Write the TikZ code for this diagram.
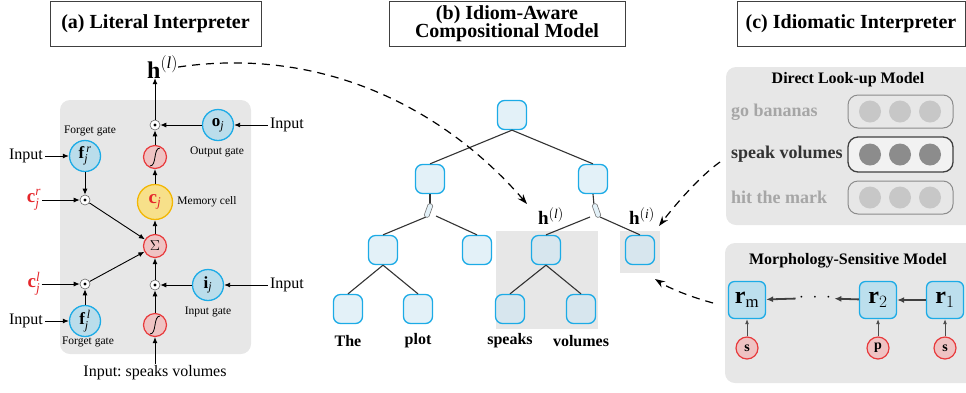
\documentclass[tikz,border=0pt]{standalone}
\usepackage{amsmath}
\usepackage{fontspec}
\setmainfont{Liberation Serif}
\usetikzlibrary{arrows.meta,positioning}

\definecolor{gateline}{HTML}{1CABE6}
\definecolor{gatefill}{HTML}{BADDEB}
\definecolor{memline}{HTML}{F2B705}
\definecolor{memfill}{HTML}{F7E08A}
\definecolor{opline}{HTML}{E8393B}
\definecolor{opfill}{HTML}{EFC3C3}
\definecolor{cred}{HTML}{E5262B}
\definecolor{panelgray}{HTML}{E7E7E7}
\definecolor{treefill}{HTML}{E3F1F8}
\definecolor{treeshade}{HTML}{D7E6EE}
\definecolor{rfill}{HTML}{BCDFED}

\newcommand\fsz[1]{\fontsize{#1}{#1}\selectfont}
\frenchspacing

\begin{document}
\begin{tikzpicture}[x=1pt, y=-1pt,
        title/.style={draw=black!75, line width=0.8pt, font=\fsz{20}\bfseries, inner sep=0pt, minimum height=45pt, align=center},
        panel/.style={fill=panelgray},
        gate/.style={circle, draw=gateline, fill=gatefill, line width=1.3pt, minimum size=31pt, inner sep=0pt, font=\fsz{17}},
        memcell/.style={circle, draw=memline, fill=memfill, line width=1.3pt, minimum size=35pt, inner sep=0pt, font=\fsz{19}},
        op/.style={circle, draw=opline, fill=opfill, line width=1.2pt, minimum size=23pt, inner sep=0pt, font=\fsz{14}},
        sig/.style={op, path picture={\draw[black, line width=0.8pt]
                ([shift={(-5pt,-9pt)}]path picture bounding box.center) .. controls +(7pt,0pt) and +(-7pt,0pt) ..
                ([shift={(5pt,9pt)}]path picture bounding box.center);}},
        prod/.style={circle, draw=black!60, fill=white, line width=0.6pt, minimum size=10pt, inner sep=0pt,
                path picture={\fill[black] (path picture bounding box.center) circle (1.7pt);}},
        lbl/.style={font=\fsz{16}, inner sep=2pt},
        note/.style={font=\fsz{11.5}, inner sep=1pt},
        arr/.style={-{Latex[length=6pt,width=5pt]}, line width=0.9pt},
        tnode/.style={draw=gateline, fill=treefill, line width=1.3pt, rounded corners=7pt, minimum size=29pt, inner sep=0pt},
        word/.style={font=\fsz{16}\bfseries, inner sep=1pt},
        branch/.style={draw=black!80, line width=1.1pt},
        switch/.style={draw=black!55, fill=treefill, line width=0.6pt, rounded corners=1.5pt, minimum width=14pt, minimum height=5pt, inner sep=0pt},
        link/.style={dash pattern=on 8pt off 6pt, line width=1.2pt, -{Stealth[length=10pt,width=7pt]}},
        capsule/.style={draw=black!45, line width=1pt, rounded corners=10pt, minimum width=105pt, minimum height=33pt, inner sep=0pt},
        ball/.style={circle, fill=black!22, minimum size=22pt, inner sep=0pt},
        rowtext/.style={font=\fsz{18}\bfseries, text=black!35, anchor=west, inner sep=0pt},
        rnode/.style={draw=gateline, fill=rfill, line width=1.3pt, rounded corners=6pt, minimum size=37pt, inner sep=0pt, font=\fsz{24}},
        morph/.style={circle, draw=opline, fill=opfill, line width=1.2pt, minimum size=22pt, inner sep=0pt, font=\fsz{14}\bfseries},
        chain/.style={-{Latex[length=7pt,width=6pt]}, line width=1.8pt, draw=black!75},
    ]
    \useasboundingbox (0,0) rectangle (966,392);

    % (a) literal interpreter
    \node[title, minimum width=211pt] (tA) at (155.5,23.5) {(a) Literal Interpreter};
    \fill[panel, rounded corners=10pt] (60,100) rectangle (251,354);

    \node[font=\fsz{24}, anchor=base west, inner sep=0pt] (hTop) at (147,78) {$\mathbf{h}^{(\textit{l})}$};
    \node[prod] (dotO) at (155,125) {};
    \node[gate] (oj) at (218,125) {$\mathbf{o}_{\textit{j}}$};
    \node[lbl] (inO) at (287,125) {Input};
    \node[note] at (217,152) {Output gate};
    \node[sig] (sigT) at (155,157) {};
    \node[memcell] (cj) at (155,202) {\color{cred}$\mathbf{c}_{\textit{j}}$};
    \node[note] at (207,202) {Memory cell};
    \node[op] (sum) at (155,246) {$\Sigma$};
    \node[prod] (dotI) at (155,285) {};
    \node[gate] (ij) at (208,285) {$\mathbf{i}_{\textit{j}}$};
    \node[lbl] (inI) at (287,285) {Input};
    \node[note] at (208,312) {Input gate};
    \node[sig] (sigB) at (155,325) {};
    \node[lbl] (inB) at (155,373) {Input: speaks volumes};

    \node[gate] (fr) at (85,156) {$\mathbf{f}^{\,\textit{r}}_{\textit{j}}$};
    \node[note] at (90,131) {Forget gate};
    \node[lbl] (inFr) at (26,156) {Input};
    \node[prod] (dotR) at (85,200) {};
    \node[font=\fsz{19}, text=cred, inner sep=1pt] (cr) at (34,200) {$\mathbf{c}^{\textit{r}}_{\textit{j}}$};
    \node[prod] (dotL) at (85,284) {};
    \node[font=\fsz{19}, text=cred, inner sep=1pt] (cl) at (34,284) {$\mathbf{c}^{\textit{l}}_{\textit{j}}$};
    \node[gate] (fl) at (85,321) {$\mathbf{f}^{\,\textit{l}}_{\textit{j}}$};
    \node[note] at (88,342) {Forget gate};
    \node[lbl] (inFl) at (26,321) {Input};

    \draw[arr] (dotO) -- (dotO |- hTop.south);
    \draw[arr] (oj) -- (dotO);
    \draw[arr] (inO) -- (oj);
    \draw[arr] (sigT) -- (dotO);
    \draw[arr] (cj) -- (sigT);
    \draw[arr] (sum) -- (cj);
    \draw[arr] (dotI) -- (sum);
    \draw[arr] (ij) -- (dotI);
    \draw[arr] (inI) -- (ij);
    \draw[arr] (sigB) -- (dotI);
    \draw[arr] (inB) -- (sigB);
    \draw[arr] (inFr) -- (fr);
    \draw[arr] (fr) -- (dotR);
    \draw[arr] (cr) -- (dotR);
    \draw[arr] (dotR) -- (sum);
    \draw[arr] (inFl) -- (fl);
    \draw[arr] (fl) -- (dotL);
    \draw[arr] (cl) -- (dotL);
    \draw[arr] (dotL) -- (sum);

    % (b) idiom-aware compositional model
    \node[title, minimum width=236pt] (tB) at (507,24) {(b) Idiom-Aware\\[-2pt]Compositional Model};
    \fill[panel] (496,231) rectangle (598,329);
    \fill[panel] (620,231) rectangle (660,273);

    \node[tnode] (root) at (512,115) {};
    \node[tnode] (bl) at (430,179) {};
    \node[tnode] (br) at (593,179) {};
    \node[tnode] (n1) at (383,250) {};
    \node[tnode] (n2) at (477,250) {};
    \node[tnode, fill=treeshade] (n3) at (546,250) {};
    \node[tnode, fill=treeshade] (n4) at (640,250) {};
    \node[tnode] (n5) at (348,309) {};
    \node[tnode] (n6) at (418,309) {};
    \node[tnode, fill=treeshade] (n7) at (510,309) {};
    \node[tnode, fill=treeshade] (n8) at (581,309) {};

    \node[word] at (348,341) {The};
    \node[word] at (418,341) {plot};
    \node[word] at (510,341) {speaks};
    \node[word] at (581,341) {volumes};

    \node[font=\fsz{19}, inner sep=0pt] (hl) at (551,216) {$\mathbf{h}^{(\textit{l})}$};
    \node[font=\fsz{19}, inner sep=0pt] (hi) at (642,216) {$\mathbf{h}^{(\textit{i})}$};

    \draw[branch] (root.south) -- (bl.north);
    \draw[branch] (root.south) -- (br.north);
    \draw[branch] (n1.south) -- (n5.north);
    \draw[branch] (n1.south) -- (n6.north);
    \draw[branch] (n3.south) -- (n7.north);
    \draw[branch] (n3.south) -- (n8.north);

    % switches below the second level
    \coordinate (swLa) at (430,205);
    \coordinate (swLb) at (426,217);
    \coordinate (swLc) at (436,216);
    \coordinate (swRa) at (594,205);
    \coordinate (swRb) at (600,217);
    \coordinate (swRc) at (590,217);
    \draw[branch] (bl.south) -- (swLa);
    \draw[branch] (swLb) -- (n1.north);
    \draw[branch] (swLc) -- (n2.north);
    \draw[branch] (br.south) -- (swRa);
    \draw[branch] (swRb) -- (n4.north);
    \draw[branch] (swRc) -- (n3.north);
    \node[switch, rotate=70] (swL) at (428.5,210.5) {};
    \node[switch, rotate=-70] (swR) at (596.5,210.5) {};

    \coordinate (toHl) at (527,204);
    \draw[link] (hTop.east) .. controls (330,45) and (450,115) .. (toHl);

    % (c) idiomatic interpreter
    \node[title, minimum width=228pt] (tC) at (851,23.5) {(c) Idiomatic Interpreter};

    \fill[panel, rounded corners=10pt] (726,67) rectangle (976,225);
    \node[font=\fsz{16}\bfseries] at (848,80) {Direct Look-up Model};

    \node[rowtext] (gb) at (731,112) {go bananas};
    \node[capsule] (capA) at (900.5,111.5) {};
    \node[rowtext, text=black!80] (sv) at (731,154) {speak volumes};
    \node[capsule, draw=black!75, fill=black!5, line width=1.3pt, minimum height=35pt] (capB) at (900.5,154.5) {};
    \node[rowtext] (hm) at (731,197) {hit the mark};
    \node[capsule] (capC) at (900.5,197.5) {};
    \foreach \i/\x in {1/870,2/900,3/930} {
        \node[ball] (capA\i) at (\x,111.5) {};
        \node[ball, fill=black!45] (capB\i) at (\x,154.5) {};
        \node[ball] (capC\i) at (\x,197.5) {};
    }

    \fill[panel, rounded corners=10pt] (725,243) rectangle (976,383);
    \node[font=\fsz{16}\bfseries] at (848,261) {Morphology-Sensitive Model};

    \node[rnode] (rm) at (747,300) {$\mathbf{r}_{\mathrm{m}}$};
    \node[font=\fsz{16}\bfseries] (dots) at (815,298) {$\cdot\;\cdot\;\cdot$};
    \node[rnode] (r2) at (878,300) {$\mathbf{r}_{2}$};
    \node[rnode] (r1) at (945,300) {$\mathbf{r}_{1}$};
    \node[morph] (m1) at (747,348) {s};
    \node[morph] (m2) at (878,348) {p};
    \node[morph] (m3) at (945,348) {s};

    \draw[chain] (r1) -- (r2);
    \draw[chain] (r2) -- (dots);
    \draw[chain] (dots) -- (rm);
    \draw[-{Latex[length=5pt,width=4pt]}, line width=0.9pt, black!70] (m1) -- (rm);
    \draw[-{Latex[length=5pt,width=4pt]}, line width=0.9pt, black!70] (m2) -- (r2);
    \draw[-{Latex[length=5pt,width=4pt]}, line width=0.9pt, black!70] (m3) -- (r1);

    \coordinate (fromSv) at (720,162);
    \coordinate (toHi) at (659,226);
    \draw[link] (fromSv) .. controls (700,176) and (675,205) .. (toHi);
    \coordinate (fromRm) at (713,303);
    \coordinate (toN4) at (655,279);
    \draw[link] (fromRm) .. controls (695,298) and (672,290) .. (toN4);
\end{tikzpicture}
\end{document}
